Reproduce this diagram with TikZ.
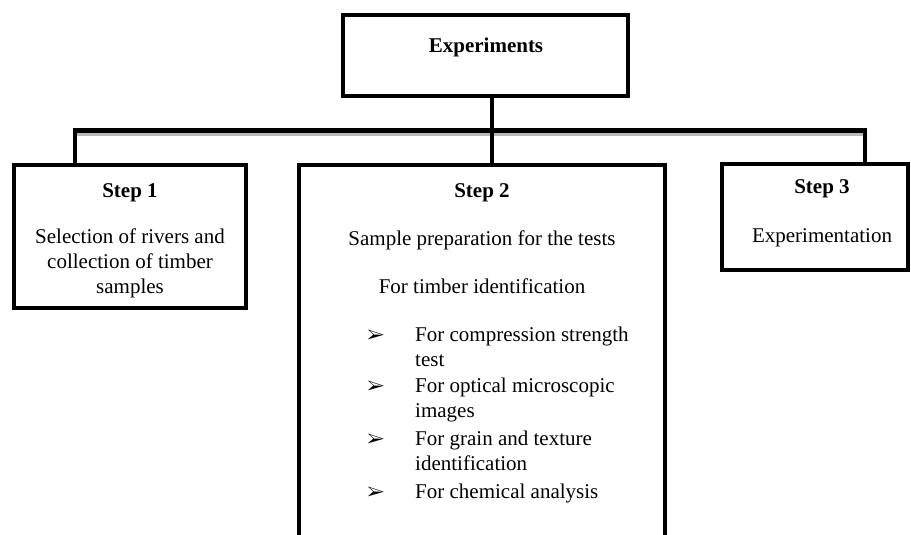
\documentclass[tikz,border=0pt]{standalone}
\usepackage{fontspec}
\setmainfont{Liberation Serif}
\usepackage{pifont}
\usetikzlibrary{positioning}

\begin{document}
\begin{tikzpicture}[
    x=1pt, y=-1pt,
    font=\fontsize{21}{25.5}\selectfont,
    box/.style 2 args={
        draw,
        line width=4pt,
        inner sep=0pt,
        minimum width=#1,
        minimum height=#2
    },
    link/.style={
        line width=4.5pt,
        line join=miter
    },
    shade/.style={
        gray!55,
        line width=3pt
    },
    txt/.style={
        anchor=base,
        inner sep=0pt
    },
    head/.style={
        txt,
        font=\fontsize{21}{25.5}\selectfont\bfseries
    },
    item/.style={
        anchor=base west,
        inner sep=0pt
    },
    bullet/.style={
        anchor=base,
        inner sep=0pt,
        font=\fontsize{19}{22}\selectfont
    }
]
\useasboundingbox (0,0) rectangle (911,535);

% Top box
\node[box={285pt}{81pt}] (exp) at (485.5,55.5) {};
\node[head] (expT) at (486,53) {Experiments};

% The three steps
\node[box={232pt}{143pt}] (s1) at (130,236.5) {};
\node[box={366pt}{400pt}] (s2) at (482,365) {};
\node[box={186pt}{106pt}] (s3) at (815,217) {};

% Tree connectors
\coordinate (bar) at (492,130.5);
\coordinate (d1)  at (75,130.5);
\coordinate (d3)  at (865,130.5);

\draw[shade] ([yshift=-3.5pt]d1) -- ([yshift=-3.5pt]d3);
\draw[link] (s1.north -| d1) |- (bar) -| (s3.north -| d3);
\draw[link] (exp.south -| bar) -- (s2.north -| bar);

% Step 1 text
\node[head] (s1h) at (130,197) {Step 1};
\node[txt]  (s1a) at (130,243) {Selection of rivers and};
\node[txt]  (s1b) at (130,268) {collection of timber};
\node[txt]  (s1c) at (130,293) {samples};

% Step 2 text
\node[head] (s2h) at (482,197) {Step 2};
\node[txt]  (s2a) at (482,245) {Sample preparation for the tests};
\node[txt]  (s2b) at (482,293) {For timber identification};

\node[bullet] (m1) at (376,341) {\ding{226}};
\node[item] (i1a) at (415,341) {For compression strength};
\node[item] (i1b) at (415,366) {test};
\node[bullet] (m2) at (376,392) {\ding{226}};
\node[item] (i2a) at (415,392) {For optical microscopic};
\node[item] (i2b) at (415,417) {images};
\node[bullet] (m3) at (376,445) {\ding{226}};
\node[item] (i3a) at (415,445) {For grain and texture};
\node[item] (i3b) at (415,470) {identification};
\node[bullet] (m4) at (376,498) {\ding{226}};
\node[item] (i4a) at (415,498) {For chemical analysis};

% Step 3 text
\node[head] (s3h) at (822,193) {Step 3};
\node[txt]  (s3a) at (822,242) {Experimentation};

\end{tikzpicture}
\end{document}
